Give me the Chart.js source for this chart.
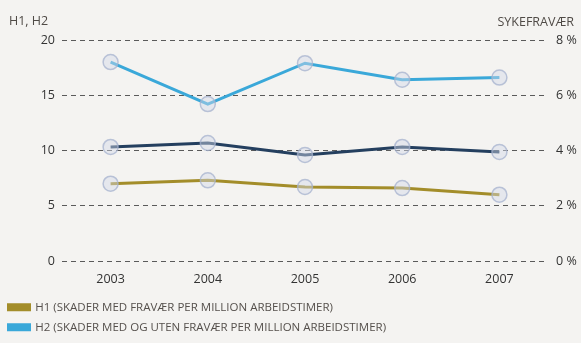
<!DOCTYPE html>
<html>
<head>
<meta charset="utf-8">
<script src="https://cdn.jsdelivr.net/npm/chart.js@4"></script>
<style>
  html, body { margin: 0; padding: 0; background: #f4f3f1; overflow: hidden; height: 343px; }
  #wrap { position: relative; width: 581px; height: 363px; }
</style>
</head>
<body>
<div id="wrap"><canvas id="chart"></canvas></div>
<script>
// years on the x axis
const years = ['2003', '2004', '2005', '2006', '2007']
// injuries per million hours worked (left axis)
const h1 = [7.0, 7.3, 6.7, 6.6, 6.0]
const h2 = [18.0, 14.2, 17.9, 16.4, 16.6]
// sick leave in percent (right axis)
const sick = [4.13, 4.27, 3.84, 4.13, 3.95]

// trailing spaces on the last one keep every legend item on its own row
const legendNames = [
    'H1 (SKADER MED FRAVÆR PER MILLION ARBEIDSTIMER)',
    'H2 (SKADER MED OG UTEN FRAVÆR PER MILLION ARBEIDSTIMER)',
    'SYKEFRAVÆR (%)' + '\u00a0'.repeat(60)
]

const fontFamily = '"Open Sans", sans-serif'

const marker = {
    pointRadius: 7.5,
    pointHoverRadius: 7.5,
    pointBackgroundColor: 'rgba(210,217,233,0.45)',
    pointBorderColor: 'rgba(165,178,206,0.75)',
    pointBorderWidth: 1.5,
    borderWidth: 3,
    tension: 0
}

// axis captions above the plot
const captions = {
    id: 'captions',
    afterDraw(chart) {
        const c = chart.ctx
        c.save()
        c.fillStyle = '#4f4a46'
        c.font = '12.5px ' + fontFamily
        c.textBaseline = 'middle'
        c.textAlign = 'left'
        c.fillText('H1, H2', 9, 21)
        c.textAlign = 'right'
        c.fillText('SYKEFRAVÆR', 574, 22)
        c.restore()
    }
}

const ctx = document.getElementById('chart')
new Chart(ctx, {
    type: 'line',
    data: {
        labels: years,
        datasets: [
            Object.assign({ label: legendNames[0], data: h1, borderColor: '#a38d2a', backgroundColor: '#a38d2a', yAxisID: 'y' }, marker),
            Object.assign({ label: legendNames[1], data: h2, borderColor: '#3aa8d9', backgroundColor: '#3aa8d9', yAxisID: 'y' }, marker),
            Object.assign({ label: legendNames[2], data: sick, borderColor: '#243f5f', backgroundColor: '#243f5f', yAxisID: 'y1' }, marker)
        ]
    },
    options: {
        responsive: true,
        maintainAspectRatio: false,
        animation: false,
        layout: { padding: { top: 40, left: 0, right: 0, bottom: 0 } },
        plugins: {
            tooltip: { enabled: false },
            legend: {
                position: 'bottom',
                align: 'start',
                labels: {
                    boxWidth: 21,
                    boxHeight: 5,
                    padding: 8.5,
                    color: '#55504c',
                    font: { family: fontFamily, size: 11.5 }
                }
            }
        },
        scales: {
            x: {
                offset: true,
                grid: { display: false },
                border: { display: false },
                ticks: { color: '#333', font: { family: fontFamily, size: 12.5 }, padding: 3 },
                afterFit: (scale) => { scale.height = 32 }
            },
            y: {
                position: 'left',
                min: 0,
                max: 20,
                ticks: { stepSize: 5, color: '#333', font: { family: fontFamily, size: 12.5 }, padding: 7 },
                grid: { color: '#5a5a5a', lineWidth: 1, drawTicks: false },
                border: { display: false, dash: [5, 4] },
                afterFit: (scale) => { scale.width = 62 }
            },
            y1: {
                position: 'right',
                min: 0,
                max: 8,
                ticks: { stepSize: 2, color: '#333', font: { family: fontFamily, size: 12.5 }, padding: 8, callback: (v) => v + ' %' },
                grid: { display: false, drawTicks: false },
                border: { display: false },
                afterFit: (scale) => { scale.width = 33 }
            }
        }
    },
    plugins: [captions]
})
</script>
</body>
</html>
